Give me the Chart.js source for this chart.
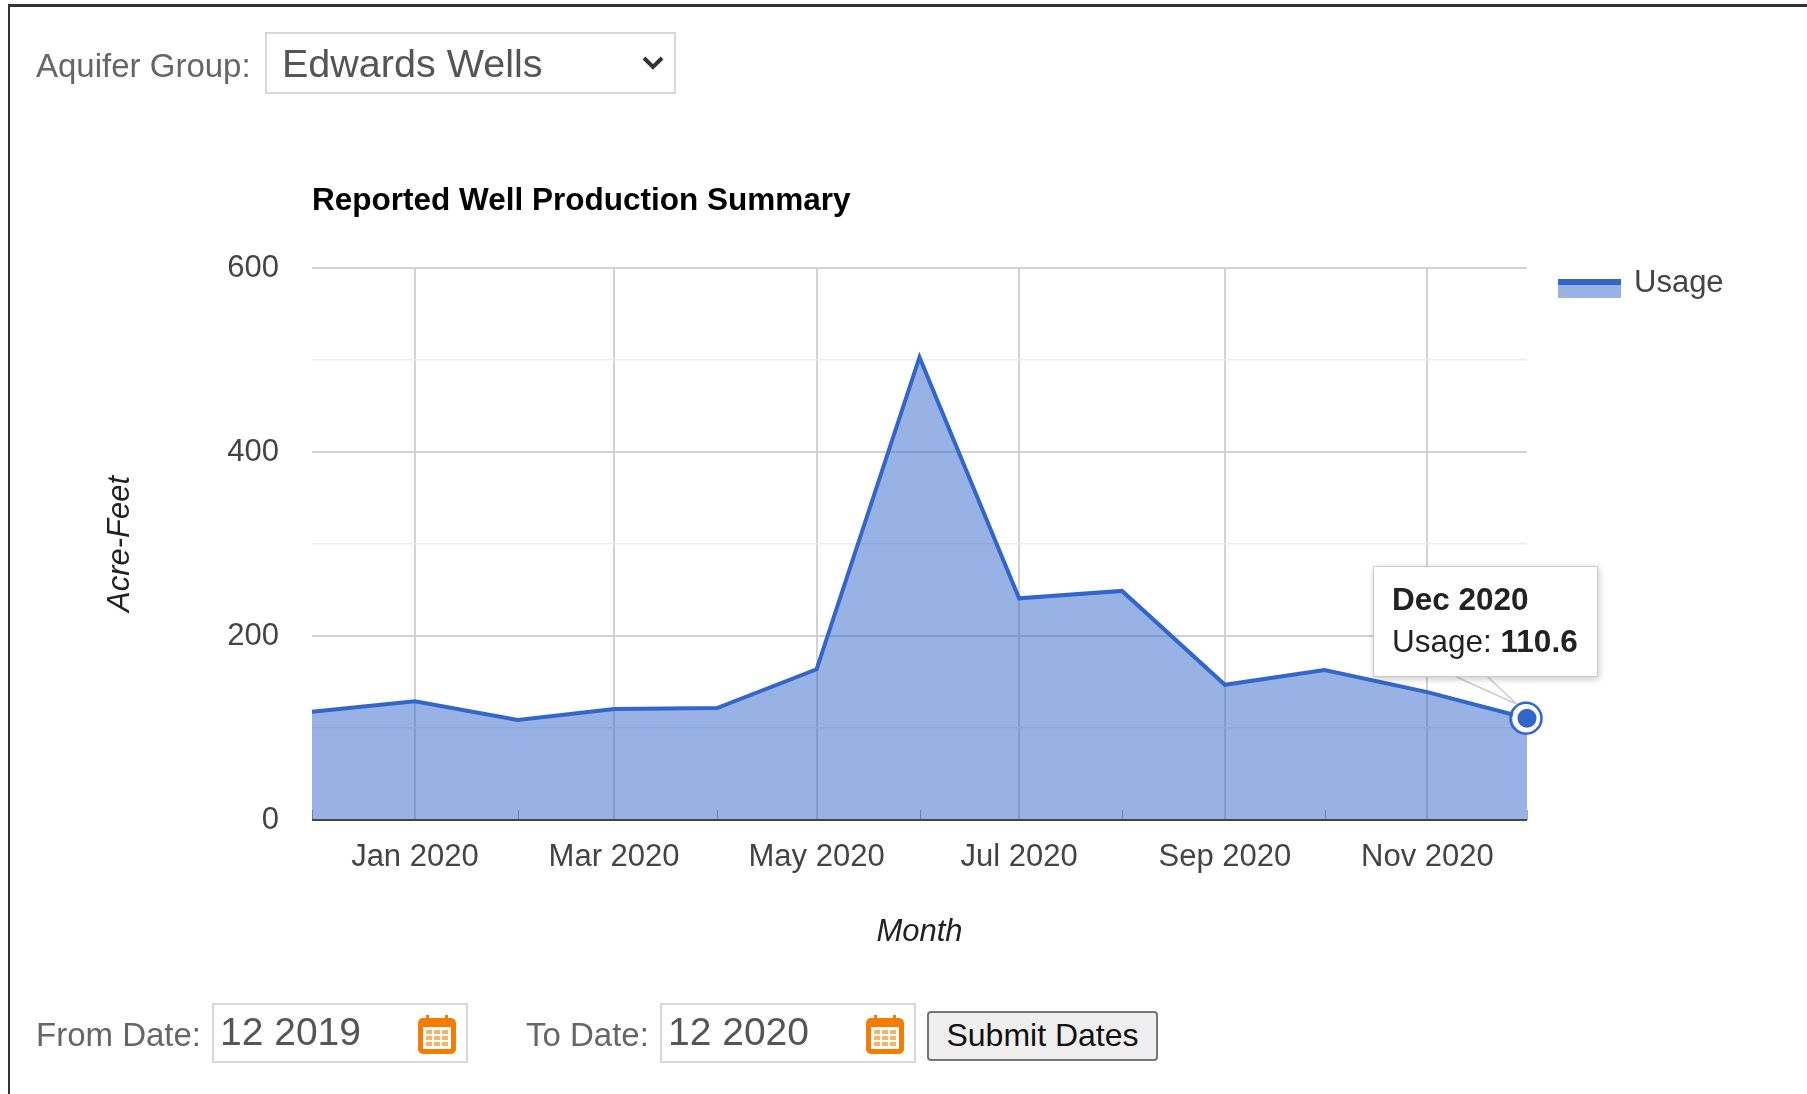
<!DOCTYPE html>
<html>
<head>
<meta charset="utf-8">
<title>Reported Well Production Summary</title>
<script src="https://cdn.jsdelivr.net/npm/chart.js@4/dist/chart.umd.min.js"></script>
<style>
    html, body { margin: 0; padding: 0; background: #fff; overflow: hidden; }
    body { width: 1807px; height: 1094px; position: relative; font-family: "Liberation Sans", Arial, sans-serif; }
    #frame { position: absolute; left: 8px; top: 4px; right: -10px; bottom: -10px; border-top: 3px solid #333; border-left: 2px solid #333; }
    #usageChart { position: absolute; left: 0; top: 0; }
    .lbl { position: absolute; color: #666; font-size: 33px; line-height: 40px; white-space: nowrap; }
    .field { position: absolute; box-sizing: border-box; border: 2px solid #d8d8d8; background: #fff; color: #555; font: 39px "Liberation Sans", Arial, sans-serif; margin: 0; outline: none; }
    select.field { appearance: none; -webkit-appearance: none; left: 265px; top: 32px; width: 411px; height: 62px; padding: 0 0 0 15px; font-size: 39.5px; }
    input.field { top: 1003px; width: 256px; height: 60px; padding: 0 0 2px 6px; }
    .chev { position: absolute; left: 641px; top: 54px; }
    .cal { position: absolute; top: 1015px; }
    #submitDates { position: absolute; left: 927px; top: 1011px; width: 231px; height: 50px; box-sizing: border-box; padding: 0 0 2px 0; background: #efefef; border: 2px solid #767676; border-radius: 4px; color: #111; font: 32px "Liberation Sans", Arial, sans-serif; }
    #legendSwatch { position: absolute; left: 1558px; top: 279px; width: 63px; height: 19px; background: #99b2e5; border-top: 6px solid #3366cc; box-sizing: border-box; }
    #legendText { position: absolute; left: 1634px; top: 264px; font-size: 31px; line-height: 36px; color: #444; }
    #tip { position: absolute; box-sizing: border-box; width: 225px; height: 111px; background: #fff; border: 1px solid #ccc; box-shadow: 1px 2px 7px rgba(0,0,0,.22); padding: 11px 0 0 18px; font-size: 31.5px; line-height: 42px; color: #222; white-space: nowrap; }
    #tipCaret { position: absolute; left: 0; top: 0; pointer-events: none; }
</style>
</head>
<body>
<div id="frame"></div>
<canvas id="usageChart" width="1807" height="1094"></canvas>

<div class="lbl" style="left:36px;top:46px">Aquifer Group:</div>
<select class="field"><option>Edwards Wells</option></select>
<svg class="chev" width="24" height="18" viewBox="0 0 24 18"><path d="M3 4 L12 13 L21 4" fill="none" stroke="#333" stroke-width="4"/></svg>

<div class="lbl" style="left:36px;top:1015px">From Date:</div>
<input class="field" style="left:212px" value="12 2019">
<div class="lbl" style="left:526px;top:1015px">To Date:</div>
<input class="field" style="left:660px" value="12 2020">
<svg class="cal" style="left:418px" width="38" height="39" viewBox="0 0 38 39"><use href="#calIcon"/></svg>
<svg class="cal" style="left:866px" width="38" height="39" viewBox="0 0 38 39">
    <defs><g id="calIcon">
        <rect x="0" y="3" width="38" height="36" rx="5" fill="#f57c00"/>
        <rect x="5" y="12" width="28" height="22" fill="#fff"/>
        <rect x="8" y="0" width="3" height="8" fill="#f57c00"/><rect x="27" y="0" width="3" height="8" fill="#f57c00"/>
        <g fill="#f9b266"><rect x="8" y="15" width="6" height="4"/><rect x="16" y="15" width="6" height="4"/><rect x="24" y="15" width="6" height="4"/>
        <rect x="8" y="21" width="6" height="4"/><rect x="16" y="21" width="6" height="4"/><rect x="24" y="21" width="6" height="4"/>
        <rect x="8" y="27" width="6" height="4"/><rect x="16" y="27" width="6" height="4"/><rect x="24" y="27" width="6" height="4"/></g>
    </g></defs>
    <use href="#calIcon"/>
</svg>
<button id="submitDates">Submit Dates</button>

<div id="legendSwatch"></div>
<div id="legendText"></div>
<svg id="tipCaret" width="1807" height="1094"></svg>
<div id="tip"></div>

<script>
// Data
const chartTitle = "Reported Well Production Summary";
const seriesName = "Usage";
const xAxisTitle = "Month";
const yAxisTitle = "Acre-Feet";
const monthDates = ["2019-12-01", "2020-01-01", "2020-02-01", "2020-03-01", "2020-04-01", "2020-05-01", "2020-06-01", "2020-07-01", "2020-08-01", "2020-09-01", "2020-10-01", "2020-11-01", "2020-12-01"];
const monthLabels = ["Dec 2019", "Jan 2020", "Feb 2020", "Mar 2020", "Apr 2020", "May 2020", "Jun 2020", "Jul 2020", "Aug 2020", "Sep 2020", "Oct 2020", "Nov 2020", "Dec 2020"];
const usageValues = [117.7, 129, 108.7, 120.6, 121.7, 163.8, 503, 241, 249, 147, 163, 139, 110.6];
const yTicks = [0, 100, 200, 300, 400, 500, 600];
const yLabelled = [0, 200, 400, 600];

const monthTimes = monthDates.map(d => Date.parse(d));
const lastIndex = usageValues.length - 1;
const fontFamily = '"Liberation Sans", Arial, sans-serif';

// Short ticks, dark baseline and the ring round the selected point go over the fill
const overlayPlugin = {
    id: "overlay",
    afterLayout(chart) {
        // title starts at the plot's left edge, not at the canvas edge
        chart.titleBlock.left = chart.chartArea.left;
    },
    afterDatasetsDraw(chart) {
        const { ctx, chartArea, scales } = chart;
        ctx.save();
        ctx.strokeStyle = "rgba(60,80,130,0.5)";
        ctx.lineWidth = 1;
        monthTimes.forEach((t, i) => {
            if (i % 2 === 1) return;
            const x = Math.round(scales.x.getPixelForValue(t)) + 0.5;
            ctx.beginPath();
            ctx.moveTo(x, chartArea.bottom - 10);
            ctx.lineTo(x, chartArea.bottom);
            ctx.stroke();
        });
        ctx.strokeStyle = "#444";
        ctx.lineWidth = 2;
        ctx.beginPath();
        ctx.moveTo(chartArea.left, chartArea.bottom);
        ctx.lineTo(chartArea.right, chartArea.bottom);
        ctx.stroke();
        const pt = chart.getDatasetMeta(0).data[lastIndex];
        ctx.strokeStyle = "#3366cc";
        ctx.lineWidth = 2.5;
        ctx.beginPath();
        ctx.arc(pt.x - 1, pt.y, 15.5, 0, Math.PI * 2);
        ctx.stroke();
        ctx.restore();
    }
};

const chart = new Chart(document.getElementById("usageChart").getContext("2d"), {
    type: "line",
    data: {
        datasets: [{
            label: seriesName,
            data: monthTimes.map((t, i) => ({ x: t, y: usageValues[i] })),
            borderColor: "#3366cc",
            borderWidth: 4,
            backgroundColor: "rgba(51,102,204,0.5)",
            fill: "origin",
            tension: 0,
            clip: false,
            pointRadius: usageValues.map((v, i) => i === lastIndex ? 12 : 0),
            pointBackgroundColor: "#3366cc",
            pointBorderColor: "#fff",
            pointBorderWidth: 5
        }]
    },
    options: {
        responsive: false,
        animation: false,
        events: [],
        layout: { padding: { left: 0, top: 0, right: 280, bottom: 0 } },
        plugins: {
            legend: { display: false },
            tooltip: { enabled: false },
            title: {
                display: true,
                text: chartTitle,
                align: "start",
                color: "#000",
                font: { family: fontFamily, size: 31.5, weight: "bold" },
                padding: { top: 182, bottom: 48.2 }
            }
        },
        scales: {
            x: {
                type: "linear",
                min: monthTimes[0],
                max: monthTimes[lastIndex],
                afterBuildTicks: s => { s.ticks = monthTimes.map(t => ({ value: t })); },
                afterFit: s => { s.height = 274; },
                border: { display: false },
                grid: {
                    drawTicks: false,
                    lineWidth: 2,
                    color: c => monthTimes.indexOf(c.tick.value) % 2 === 1 ? "#d2d2d2" : "transparent"
                },
                ticks: {
                    autoSkip: false,
                    maxRotation: 0,
                    padding: 19,
                    color: "#444",
                    font: { family: fontFamily, size: 31 },
                    callback: v => {
                        const i = monthTimes.indexOf(v);
                        return i % 2 === 1 ? monthLabels[i] : "";
                    }
                },
                title: {
                    display: true,
                    text: xAxisTitle,
                    color: "#222",
                    font: { family: fontFamily, size: 31, style: "italic" },
                    padding: { top: 0, bottom: 143 }
                }
            },
            y: {
                min: 0,
                max: 600,
                afterBuildTicks: s => { s.ticks = yTicks.map(v => ({ value: v })); },
                afterFit: s => { s.width = 312; },
                border: { display: false },
                grid: {
                    drawTicks: false,
                    lineWidth: c => yLabelled.includes(c.tick.value) ? 2 : 1.5,
                    color: c => yLabelled.includes(c.tick.value) ? "#d2d2d2" : "#ececec"
                },
                ticks: {
                    padding: 33,
                    color: "#444",
                    font: { family: fontFamily, size: 31 },
                    callback: v => yLabelled.includes(v) ? String(v) : ""
                },
                title: {
                    display: true,
                    text: yAxisTitle,
                    color: "#222",
                    font: { family: fontFamily, size: 31, style: "italic" },
                    padding: { top: 102, bottom: 0 }
                }
            }
        }
    },
    plugins: [overlayPlugin]
});

// Legend and tooltip sit over the canvas
document.getElementById("legendText").textContent = seriesName;

const tip = document.getElementById("tip");
const tipPoint = chart.getDatasetMeta(0).data[lastIndex];
tip.style.left = (tipPoint.x - 154) + "px";
tip.style.top = (tipPoint.y - 152) + "px";
tip.innerHTML = `<b>${monthLabels[lastIndex]}</b><br>${seriesName}: <b>${usageValues[lastIndex]}</b>`;

const baseY = tipPoint.y - 42;
document.getElementById("tipCaret").innerHTML =
    `<path d="M${tipPoint.x - 72} ${baseY} L${tipPoint.x - 10} ${tipPoint.y - 14} L${tipPoint.x - 40} ${baseY} Z" fill="#fff" stroke="#ccc" stroke-width="1.5"/>`;
</script>
</body>
</html>
